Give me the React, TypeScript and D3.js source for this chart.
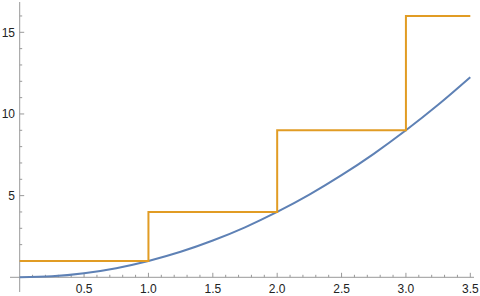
import React from "react";
import * as d3 from "d3";

const curveX = [0, 0.25, 0.5, 0.75, 1, 1.25, 1.5, 1.75, 2, 2.25, 2.5, 2.75, 3, 3.25, 3.5];
const curveY = [0, 0.06, 0.25, 0.56, 1, 1.56, 2.25, 3.06, 4, 5.06, 6.25, 7.56, 9, 10.56, 12.25];
const stepX = [0, 1, 2, 3, 3.5];
const stepY = [1, 4, 9, 16, 16];
const xTicks = [0.5, 1.0, 1.5, 2.0, 2.5, 3.0, 3.5];
const yTicks = [5, 10, 15];

export default function App() {
  const W = 480, H = 296;
  const x = d3.scaleLinear().domain([0, 3.5]).range([19.7, 470.3]);
  const y = d3.scaleLinear().domain([0, 15]).range([277.3, 32.3]);
  const xMinor = d3.range(1, 36).map((i) => i / 10).filter((v) => Math.abs(v * 2 - Math.round(v * 2)) > 1e-6);
  const yMinor = d3.range(1, 17).filter((v) => v % 5 !== 0);
  const line = d3.line<number>().x((_, i) => x(curveX[i])).y((d) => y(d)).curve(d3.curveMonotoneX);
  const step = d3.line<number>().x((_, i) => x(stepX[i])).y((d) => y(d)).curve(d3.curveStepAfter);
  const axis = "#999";
  const font = "'Liberation Sans', Arial, sans-serif";
  return (
    <svg width={W} height={H} style={{ position: "absolute", left: 0, top: 0, background: "#fff" }}>
      <line x1={10} x2={474} y1={y(0)} y2={y(0)} stroke={axis} strokeWidth={1} />
      <line x1={x(0)} x2={x(0)} y1={2} y2={292} stroke={axis} strokeWidth={1} />
      {xTicks.map((t) => (
        <g key={"xt" + t}>
          <line x1={x(t)} x2={x(t)} y1={y(0)} y2={y(0) - 4.5} stroke={axis} />
          <text x={x(t)} y={293} textAnchor="middle" fontSize={12} fontFamily={font} fill="#222">{t.toFixed(1)}</text>
        </g>
      ))}
      {xMinor.map((t) => (
        <line key={"xm" + t} x1={x(t)} x2={x(t)} y1={y(0)} y2={y(0) - 2.5} stroke={axis} />
      ))}
      {yTicks.map((t) => (
        <g key={"yt" + t}>
          <line x1={x(0)} x2={x(0) + 4.5} y1={y(t)} y2={y(t)} stroke={axis} />
          <text x={15} y={y(t) + 4.3} textAnchor="end" fontSize={12} fontFamily={font} fill="#222">{t}</text>
        </g>
      ))}
      {yMinor.map((t) => (
        <line key={"ym" + t} x1={x(0)} x2={x(0) + 2.5} y1={y(t)} y2={y(t)} stroke={axis} />
      ))}
      <path d={line(curveY) || ""} fill="none" stroke="#5E81B5" strokeWidth={2} />
      <path d={step(stepY) || ""} fill="none" stroke="#E19C24" strokeWidth={2} />
    </svg>
  );
}
